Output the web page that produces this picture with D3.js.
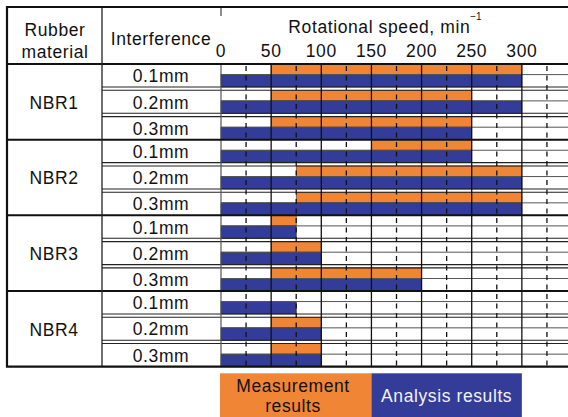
<!DOCTYPE html>
<html>
<head>
<meta charset="utf-8">
<script src="https://cdn.jsdelivr.net/npm/d3@7"></script>
<style>
  body { margin: 0; background: #fff; }
  svg text { font-family: "Liberation Sans", Arial, sans-serif; fill: #111; }
</style>
</head>
<body>
<div id="chart"></div>
<script>
// rows of the table
const materials = ['NBR1', 'NBR2', 'NBR3', 'NBR4'];
const interferences = ['0.1mm', '0.2mm', '0.3mm'];

// measurement range (min^-1), one per row, null = no result
const measStart = [50, 50, 50, 150, 75, 75, 50, 50, 50, null, 50, 50];
const measEnd = [300, 250, 250, 250, 300, 300, 75, 100, 200, null, 100, 100];
// analysis range always starts at 0
const analysisEnd = [300, 300, 250, 250, 300, 300, 75, 100, 200, 75, 100, 100];

const speedTicks = [0, 50, 100, 150, 200, 250, 300];
const solidGrid = [50, 100, 150, 200, 250, 300, 350];
const dashGrid = [25, 75, 125, 175, 225, 275, 325];

const orange = '#f08536';
const blue = '#333d99';

const width = 568, height = 417;
const tableLeft = 7, tableTop = 7, tableBottom = 366.6;
const col1 = 102, headBottom = 64;

const svg = d3.select('#chart').append('svg')
    .attr('width', width).attr('height', height);

// scales
const x = d3.scaleLinear().domain([0, 350]).range([221, 572]);
const gy = d3.scaleBand().domain(materials).range([headBottom, tableBottom]);
const rowStep = 26.3;
const ry = d3.scaleBand().domain(interferences).range([0, rowStep * 3]);
const orangeH = 10.6, rowH = 23;

// flatten rows
let rows = [];
materials.forEach((m, gi) => {
    interferences.forEach((f, fi) => {
        let i = gi * 3 + fi;
        rows.push({
            material: m, inter: f, idx: fi,
            top: gy(m) + ry(f),
            ms: measStart[i], me: measEnd[i], ae: analysisEnd[i]
        });
    });
});

// bars
svg.append('g').selectAll('rect.meas')
    .data(rows.filter(d => d.ms != null))
    .join('rect')
    .attr('class', 'meas')
    .attr('x', d => x(d.ms))
    .attr('y', d => d.top)
    .attr('width', d => x(d.me) - x(d.ms))
    .attr('height', orangeH)
    .attr('fill', orange)
    .attr('stroke', '#5a3010').attr('stroke-width', 0.6);

svg.append('g').selectAll('rect.ana')
    .data(rows)
    .join('rect')
    .attr('class', 'ana')
    .attr('x', x(0))
    .attr('y', d => d.top + orangeH)
    .attr('width', d => x(d.ae) - x(0))
    .attr('height', rowH - orangeH)
    .attr('fill', blue)
    .attr('stroke', '#111').attr('stroke-width', 0.6);

// horizontal cell lines
const hl = svg.append('g');
rows.forEach(d => {
    if (d.idx > 0) {
        hl.append('line').attr('x1', col1).attr('x2', width)
            .attr('y1', d.top).attr('y2', d.top)
            .attr('stroke', '#222').attr('stroke-width', 1.1);
    }
    hl.append('line').attr('x1', x(0)).attr('x2', width)
        .attr('y1', d.top + orangeH).attr('y2', d.top + orangeH)
        .attr('stroke', '#555').attr('stroke-width', 1);
    if (d.idx < 2) {
        hl.append('line').attr('x1', col1).attr('x2', width)
            .attr('y1', d.top + rowH).attr('y2', d.top + rowH)
            .attr('stroke', '#222').attr('stroke-width', 1.1);
    }
});

// vertical grid
svg.append('g').selectAll('line')
    .data(solidGrid)
    .join('line')
    .attr('x1', d => x(d)).attr('x2', d => x(d))
    .attr('y1', headBottom).attr('y2', tableBottom)
    .attr('stroke', '#111').attr('stroke-width', 1.3);

svg.append('g').selectAll('line')
    .data(dashGrid)
    .join('line')
    .attr('x1', d => x(d)).attr('x2', d => x(d))
    .attr('y1', headBottom).attr('y2', tableBottom)
    .attr('stroke', '#111').attr('stroke-width', 1.3)
    .attr('stroke-dasharray', '5,4.5')
    .attr('stroke-dashoffset', -2);

// zero line
svg.append('line')
    .attr('x1', x(0)).attr('x2', x(0))
    .attr('y1', headBottom).attr('y2', tableBottom)
    .attr('stroke', '#555').attr('stroke-width', 1.2);
svg.append('line')
    .attr('x1', x(0)).attr('x2', x(0))
    .attr('y1', tableTop).attr('y2', 16)
    .attr('stroke', '#444').attr('stroke-width', 1.2);

// group lines and frame
svg.append('g').selectAll('line')
    .data(materials.slice(1))
    .join('line')
    .attr('x1', tableLeft).attr('x2', width)
    .attr('y1', d => gy(d)).attr('y2', d => gy(d))
    .attr('stroke', '#111').attr('stroke-width', 2);

svg.append('line').attr('x1', tableLeft).attr('x2', width)
    .attr('y1', headBottom).attr('y2', headBottom)
    .attr('stroke', '#111').attr('stroke-width', 2);
svg.append('line').attr('x1', col1).attr('x2', col1)
    .attr('y1', tableTop).attr('y2', tableBottom)
    .attr('stroke', '#222').attr('stroke-width', 1.3);
svg.append('path')
    .attr('d', `M${width + 5},${tableTop}H${tableLeft}V${tableBottom}H${width + 5}`)
    .attr('fill', 'none').attr('stroke', '#111').attr('stroke-width', 2.2);

// text
const fs = '17.5px', ls = '0.6px';
function label(tx, ty, str, anchor) {
    return svg.append('text')
        .attr('x', tx).attr('y', ty)
        .attr('text-anchor', anchor || 'middle')
        .style('font-size', fs).style('letter-spacing', ls)
        .text(str);
}

label(55, 36, 'Rubber');
label(55, 58, 'material');
label(161, 45, 'Interference');

let title = label(385, 33, 'Rotational speed, min');
title.append('tspan').attr('dy', -13).style('font-size', '10px').style('letter-spacing', '0px').text('\u22121');

svg.append('g').selectAll('text')
    .data(speedTicks)
    .join('text')
    .attr('x', d => x(d))
    .attr('y', 57.3)
    .attr('text-anchor', 'middle')
    .style('font-size', fs).style('letter-spacing', ls)
    .text(d => d);

svg.append('g').selectAll('text')
    .data(materials)
    .join('text')
    .attr('x', 54)
    .attr('y', d => gy(d) + gy.bandwidth() / 2 + 7)
    .attr('text-anchor', 'middle')
    .style('font-size', fs).style('letter-spacing', ls)
    .text(d => d);

svg.append('g').selectAll('text')
    .data(rows)
    .join('text')
    .attr('x', 161)
    .attr('y', d => d.top + 18.2)
    .attr('text-anchor', 'middle')
    .style('font-size', fs).style('letter-spacing', ls)
    .text(d => d.inter);

// legend
const legend = svg.append('g');
legend.append('rect').attr('x', x(0) - 1).attr('y', 373.3)
    .attr('width', x(150) - x(0) + 1).attr('height', 50).attr('fill', orange);
legend.append('rect').attr('x', x(150)).attr('y', 373.3)
    .attr('width', x(300) - x(150)).attr('height', 50).attr('fill', blue);
label(293, 391.7, 'Measurement');
label(293, 411.7, 'results');
label(x(225), 401.7, 'Analysis results').style('fill', '#f2f2f2');
</script>
</body>
</html>
